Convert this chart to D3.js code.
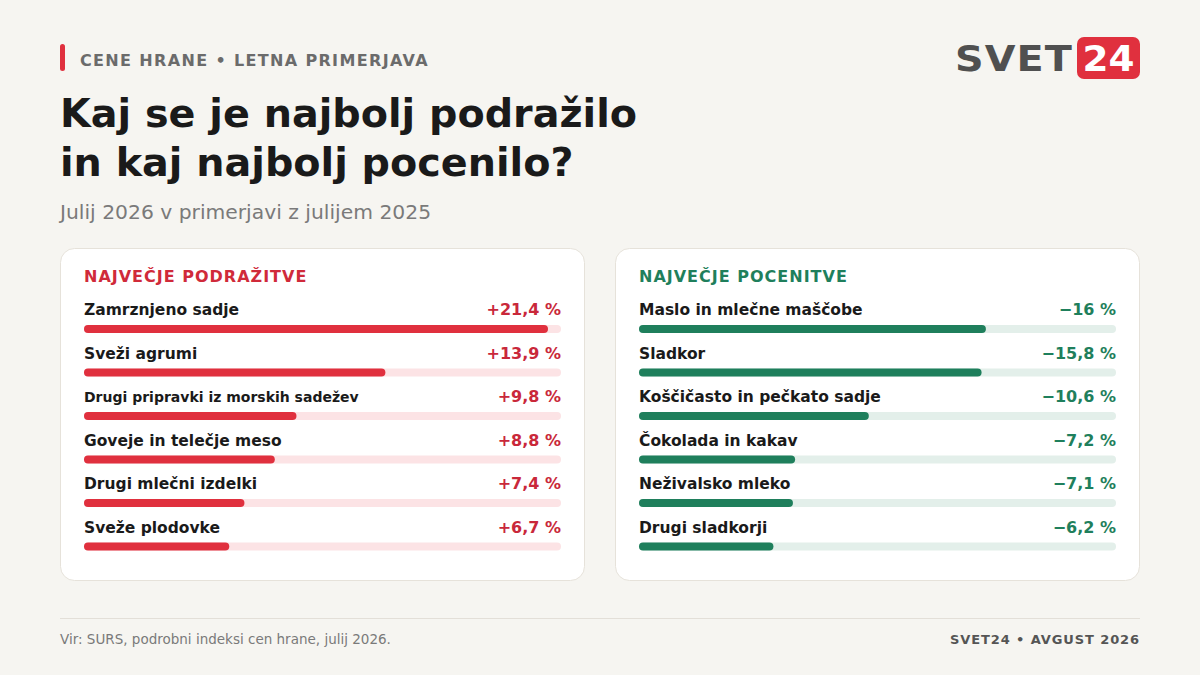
<!DOCTYPE html>
<html>
<head>
<meta charset="utf-8">
<script src="https://cdn.jsdelivr.net/npm/d3@7"></script>
<style>
  html, body { margin: 0; padding: 0; background: #f6f5f1; }
  svg { display: block; font-family: "DejaVu Sans", sans-serif; }
</style>
</head>
<body>
<div id="main"></div>
<script>
var W = 1200, H = 675;

var upLabels = ["Zamrznjeno sadje", "Sveži agrumi", "Drugi pripravki iz morskih sadežev",
  "Goveje in telečje meso", "Drugi mlečni izdelki", "Sveže plodovke"];
var upValues = [21.4, 13.9, 9.8, 8.8, 7.4, 6.7];

var downLabels = ["Maslo in mlečne maščobe", "Sladkor", "Koščičasto in pečkato sadje",
  "Čokolada in kakav", "Neživalsko mleko", "Drugi sladkorji"];
var downValues = [-16, -15.8, -10.6, -7.2, -7.1, -6.2];

var scaleMax = 22;

var svg = d3.select("#main")
  .append("svg")
  .attr("width", W)
  .attr("height", H);

svg.append("rect").attr("width", W).attr("height", H).attr("fill", "#f6f5f1");

// header
svg.append("rect")
  .attr("x", 60).attr("y", 44).attr("width", 5).attr("height", 27)
  .attr("rx", 2.5).attr("fill", "#e0303e");

svg.append("text")
  .attr("x", 80).attr("y", 66)
  .attr("font-size", 16).attr("font-weight", "bold")
  .attr("letter-spacing", 1.35).attr("fill", "#6b6b6b")
  .text("CENE HRANE • LETNA PRIMERJAVA");

svg.append("text")
  .attr("x", 60).attr("y", 127)
  .attr("font-size", 39.7).attr("font-weight", "bold").attr("fill", "#1a1a1a")
  .text("Kaj se je najbolj podražilo");
svg.append("text")
  .attr("x", 60).attr("y", 176)
  .attr("font-size", 39.7).attr("font-weight", "bold").attr("fill", "#1a1a1a")
  .text("in kaj najbolj pocenilo?");

svg.append("text")
  .attr("x", 60).attr("y", 219)
  .attr("font-size", 20.3).attr("fill", "#7a7a7a")
  .text("Julij 2026 v primerjavi z julijem 2025");

// logo
var logo = svg.append("g");
logo.append("text")
  .attr("x", 955).attr("y", 71)
  .attr("font-size", 36).attr("font-weight", "bold")
  .attr("letter-spacing", 1)
  .attr("fill", "#505050")
  .attr("textLength", 118).attr("lengthAdjust", "spacingAndGlyphs")
  .text("SVET");
logo.append("rect")
  .attr("x", 1077).attr("y", 37).attr("width", 63).attr("height", 42)
  .attr("rx", 7).attr("fill", "#e0303e");
logo.append("text")
  .attr("x", 1108.5).attr("y", 71)
  .attr("text-anchor", "middle")
  .attr("font-size", 36).attr("font-weight", "bold")
  .attr("fill", "#ffffff")
  .attr("textLength", 52).attr("lengthAdjust", "spacingAndGlyphs")
  .text("24");

// panels
function panel(x0, title, labels, values, main, track, valColor, titleColor) {
  var g = svg.append("g").attr("transform", "translate(" + x0 + ",0)");
  g.append("rect")
    .attr("x", 0.5).attr("y", 248.5).attr("width", 524).attr("height", 332)
    .attr("rx", 14).attr("fill", "#ffffff").attr("stroke", "#e6e2da");

  g.append("text")
    .attr("x", 24).attr("y", 282)
    .attr("font-size", 16).attr("font-weight", "bold")
    .attr("letter-spacing", 1).attr("fill", titleColor)
    .text(title);

  var x = d3.scaleLinear().domain([0, scaleMax]).range([0, 477]);
  var y = d3.scaleBand().domain(d3.range(labels.length)).range([287, 548]);

  var rows = g.selectAll(".row")
    .data(labels.map(function(l, i) { return { label: l, value: values[i] }; }))
    .enter()
    .append("g")
    .attr("transform", function(d, i) { return "translate(24," + y(i) + ")"; });

  rows.append("text")
    .attr("y", 28)
    .attr("font-size", function(d) { return d.label.length > 30 ? 14 : 15.5; })
    .attr("font-weight", "bold").attr("fill", "#1a1a1a")
    .text(function(d) { return d.label; });

  rows.append("text")
    .attr("x", 477).attr("y", 28)
    .attr("text-anchor", "end")
    .attr("font-size", 16).attr("font-weight", "bold").attr("fill", valColor)
    .text(function(d) {
      var s = Math.abs(d.value).toString().replace(".", ",");
      return (d.value > 0 ? "+" : "\u2212") + s + " %";
    });

  rows.append("rect")
    .attr("y", 38).attr("width", x(scaleMax)).attr("height", 8)
    .attr("rx", 4).attr("fill", track);

  rows.append("rect")
    .attr("y", 38).attr("width", function(d) { return x(Math.abs(d.value)); })
    .attr("height", 8).attr("rx", 4).attr("fill", main);
}

panel(60, "NAJVEČJE PODRAŽITVE", upLabels, upValues, "#e0303e", "#fce3e5", "#c9283a", "#d02a3a");
panel(615, "NAJVEČJE POCENITVE", downLabels, downValues, "#1f7f5c", "#e3efea", "#1f7f5c", "#1f7f5c");

// footer
svg.append("line")
  .attr("x1", 60).attr("x2", 1140).attr("y1", 618.5).attr("y2", 618.5)
  .attr("stroke", "#e3dfd8");
svg.append("text")
  .attr("x", 60).attr("y", 644)
  .attr("font-size", 13.5).attr("fill", "#7a7a7a")
  .text("Vir: SURS, podrobni indeksi cen hrane, julij 2026.");
svg.append("text")
  .attr("x", 1140).attr("y", 644)
  .attr("text-anchor", "end")
  .attr("font-size", 13).attr("font-weight", "bold")
  .attr("letter-spacing", 0.9).attr("fill", "#555555")
  .text("SVET24 • AVGUST 2026");
</script>
</body>
</html>
